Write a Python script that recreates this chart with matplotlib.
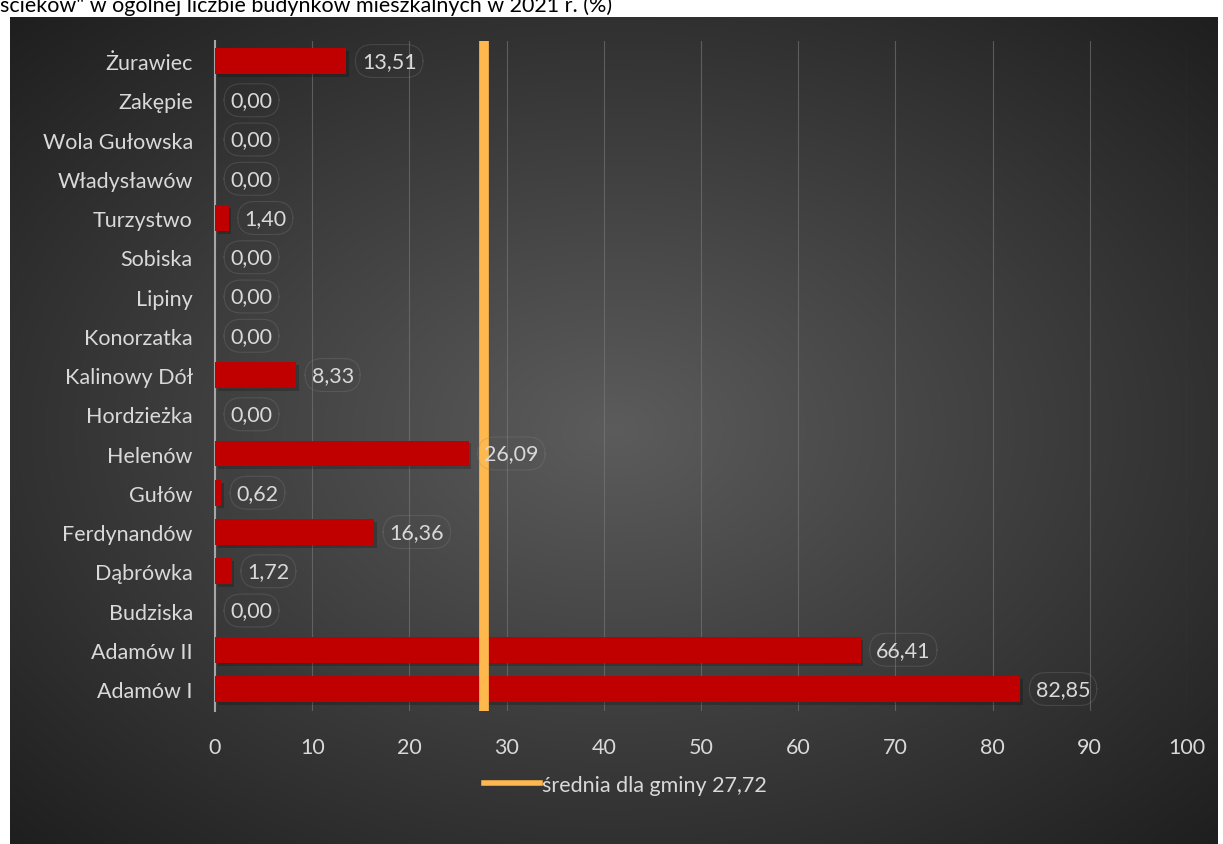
#!/usr/bin/env python3

import numpy as np
import matplotlib
matplotlib.use("Agg")
import matplotlib.pyplot as plt
import matplotlib.patheffects as pe
from matplotlib.lines import Line2D

# Data (bottom to top)
villages = ["Adamów I", "Adamów II", "Budziska", "Dąbrówka", "Ferdynandów",
            "Gułów", "Helenów", "Hordzieżka", "Kalinowy Dół", "Konorzatka",
            "Lipiny", "Sobiska", "Turzystwo", "Władysławów", "Wola Gułowska",
            "Zakępie", "Żurawiec"]
values = [82.85, 66.41, 0.00, 1.72, 16.36, 0.62, 26.09, 0.00, 8.33, 0.00,
          0.00, 0.00, 1.40, 0.00, 0.00, 0.00, 13.51]
average = 27.72
legend_label = "średnia dla gminy 27,72"
title = 'ścieków" w ogólnej liczbie budynków mieszkalnych w 2021 r. (%)'

plt.rcParams["font.family"] = ["Lato", "DejaVu Sans"]
FS = 15.5
W, H = 1223, 845
fig = plt.figure(figsize=(W / 100, H / 100), dpi=100, facecolor="white")

# Dark radial-gradient panel behind the chart
bg = fig.add_axes([10 / W, 0, 1208 / W, 1 - 18 / H])
bg.axis("off")
yy, xx = np.mgrid[-1:1:400j, -1:1:600j]
r = np.sqrt(xx ** 2 + yy ** 2) / np.sqrt(2)
grad = 0.36 - 0.24 * r
bg.imshow(np.dstack([grad, grad, grad]), aspect="auto", extent=[0, 1, 0, 1])
bg.set_xlim(0, 1)
bg.set_ylim(0, 1)

# Main axes
ax = fig.add_axes([215 / W, 1 - 712 / H, (1187 - 215) / W, (712 - 42) / H])
ax.patch.set_alpha(0)
y = np.arange(len(villages))
bars = ax.barh(y, values, height=0.66, color="#C00000", zorder=3)
for b in bars:
    b.set_path_effects([pe.SimplePatchShadow(offset=(2, -2), shadow_rgbFace="black", alpha=0.2),
                        pe.Normal()])

ax.axvline(average, color="#FFB84D", lw=7, zorder=4)

for yi, v in zip(y, values):
    ax.text(v + 1.6, yi, f"{v:.2f}".replace(".", ","), va="center", ha="left",
            fontsize=FS, color="#D9D9D9", zorder=5,
            bbox=dict(boxstyle="round,pad=0.3,rounding_size=0.8", fc="none",
                      ec="#8a8a8a", lw=0.8, alpha=0.25))

ax.set_xlim(0, 100)
ax.set_ylim(-0.56, 16.51)
ax.set_xticks(range(0, 101, 10))
ax.set_yticks(y)
ax.set_yticklabels(villages)
ax.tick_params(axis="x", length=0, pad=19, labelsize=FS, labelcolor="#D9D9D9")
ax.tick_params(axis="y", length=0, pad=16, labelsize=FS, labelcolor="#D9D9D9")
ax.grid(axis="x", color="#7a7a7a", lw=0.8, alpha=0.6, zorder=0)
for s in ["top", "right", "bottom"]:
    ax.spines[s].set_visible(False)
ax.spines["left"].set_color("#A6A6A6")
ax.spines["left"].set_linewidth(1.5)

# Legend
handle = Line2D([], [], color="#FFB84D", lw=4)
leg = fig.legend([handle], [legend_label], loc="center", bbox_to_anchor=(625 / W, 1 - 786 / H),
                 frameon=False, fontsize=FS, handlelength=2.6, handletextpad=0.1)
for t in leg.get_texts():
    t.set_color("#D9D9D9")

# Title (cut off at the top in the source)
fig.text(0.0, 1 - 12 / H, title, ha="left", va="baseline", fontsize=FS, color="black")

fig.savefig("out.png", dpi=100, facecolor="white")
